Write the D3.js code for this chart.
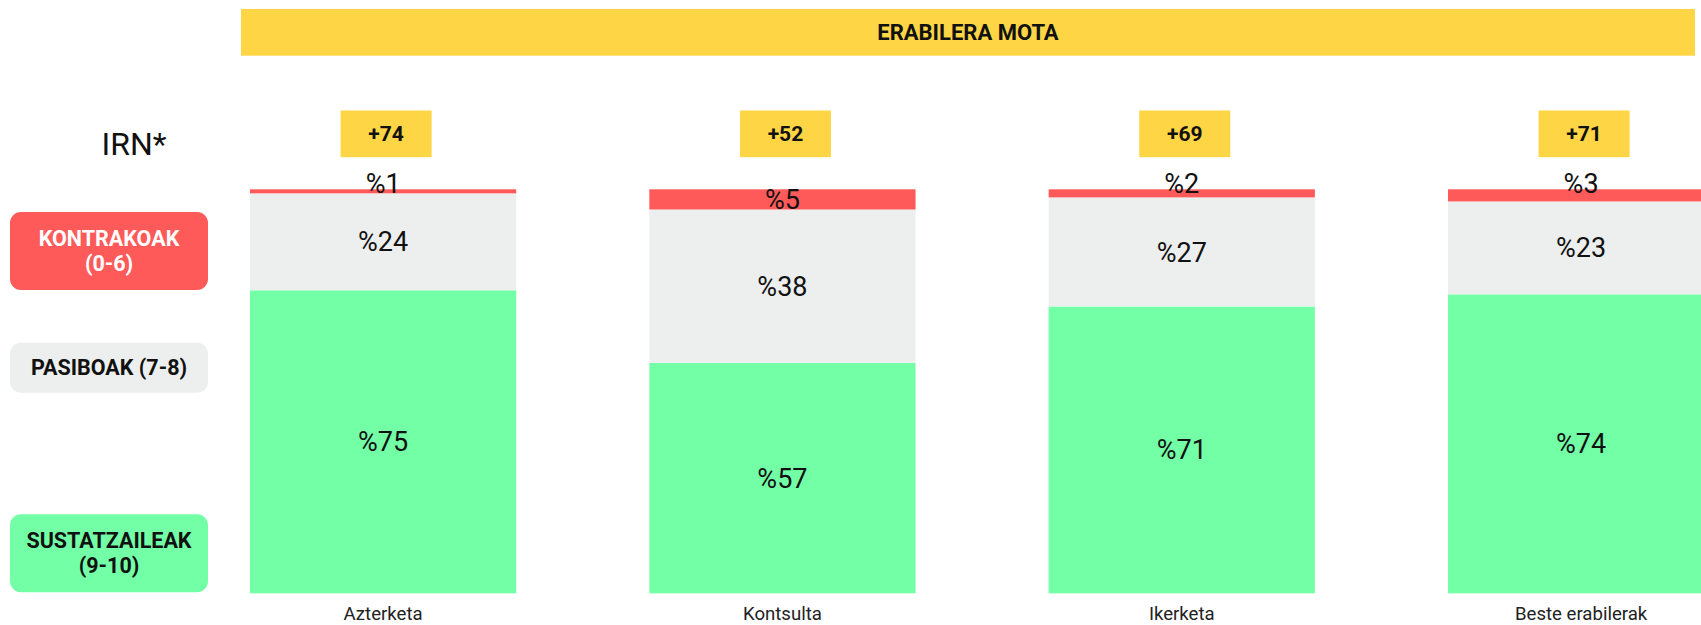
<!DOCTYPE html>
<html>
<head>
<meta charset="utf-8">
<script src="https://cdn.jsdelivr.net/npm/d3@7"></script>
<style>
  html, body { margin: 0; padding: 0; background: #fff; }
  svg { display: block; font-family: Roboto, "Noto Sans", sans-serif; }
</style>
</head>
<body>
<svg id="chart" width="1701" height="625"></svg>
<script>
// ---- data ----
const title = "ERABILERA MOTA";
const categories = ["Azterketa", "Kontsulta", "Ikerketa", "Beste erabilerak"];
const kontrakoak = [1, 5, 2, 3];          // 0-6
const pasiboak = [24, 38, 27, 23];        // 7-8
const sustatzaileak = [75, 57, 71, 74];   // 9-10
const irn = [74, 52, 69, 71];
const seriesKeys = ["sustatzaileak", "pasiboak", "kontrakoak"];
const legendLabels = [["KONTRAKOAK", "(0-6)"], ["PASIBOAK (7-8)"], ["SUSTATZAILEAK", "(9-10)"]];
const irnLabel = "IRN*";

// ---- styles ----
const colors = { kontrakoak: "#FF5A5A", pasiboak: "#EDEFEE", sustatzaileak: "#72FFA6" };
const yellow = "#FED544";

const svg = d3.select("#chart");

const rows = categories.map((c, i) => ({
  cat: c, kontrakoak: kontrakoak[i], pasiboak: pasiboak[i], sustatzaileak: sustatzaileak[i], irn: irn[i]
}));

const x = d3.scaleBand().domain(categories).range([250, 1714.2]).paddingInner(1/3).paddingOuter(0);
const y = d3.scaleLinear().domain([0, 100]).range([593.3, 189.3]);

// title banner
svg.append("rect").attr("x", 241).attr("y", 9).attr("width", 1454).attr("height", 46.7).attr("fill", yellow);
svg.append("text").attr("x", 968).attr("y", 32.3 + 7.8).attr("text-anchor", "middle")
  .attr("font-size", 22).attr("font-weight", 700).attr("fill", "#111").text(title);

// IRN label
svg.append("text").attr("x", 134).attr("y", 155).attr("text-anchor", "middle")
  .attr("font-size", 32).attr("fill", "#111").text(irnLabel);

// legend boxes
const legendBoxes = [
  { key: "kontrakoak", y0: 212, h: 78, text: "#fff" },
  { key: "pasiboak", y0: 342.7, h: 50, text: "#111" },
  { key: "sustatzaileak", y0: 514.3, h: 78, text: "#111" }
];
const lfs = 21.5;
legendBoxes.forEach((b, i) => {
  svg.append("rect").attr("x", 10).attr("y", b.y0).attr("width", 198).attr("height", b.h)
    .attr("rx", 11).attr("fill", colors[b.key]);
  const lines = legendLabels[i];
  const lh = 25;
  const cy = b.y0 + b.h / 2;
  const t = svg.append("text").attr("text-anchor", "middle").attr("font-size", lfs)
    .attr("font-weight", 700).attr("fill", b.text);
  lines.forEach((ln, j) => {
    const base = cy - (lines.length - 1) * lh / 2 + j * lh + lfs * 0.355;
    t.append("tspan").attr("x", 109).attr("y", base).text(ln);
  });
});

// stacked bars
const stack = d3.stack().keys(seriesKeys);
const stacked = stack(rows);
const g = svg.append("g");
stacked.forEach(layer => {
  g.selectAll(null).data(layer).join("rect")
    .attr("x", d => x(d.data.cat))
    .attr("y", d => y(d[1]))
    .attr("width", x.bandwidth())
    .attr("height", d => y(d[0]) - y(d[1]))
    .attr("fill", colors[layer.key]);
});

// segment labels
const fs = 27;
stacked.forEach(layer => {
  g.selectAll(null).data(layer).join("text")
    .attr("x", d => x(d.data.cat) + x.bandwidth() / 2)
    .attr("y", d => {
      const top = y(d[1]), bot = y(d[0]);
      const h = bot - top;
      if (h < 16) return top + 3.5;            // small segment: label sits on its top edge
      return (top + bot) / 2 + fs * 0.355;
    })
    .attr("text-anchor", "middle")
    .attr("font-size", fs)
    .attr("fill", "#111")
    .text(d => "%" + (d[1] - d[0]));
});

// IRN boxes
const bw = 91, bh = 46.7, ifs = 21;
rows.forEach(r => {
  const cx = x(r.cat) + x.bandwidth() / 2;
  svg.append("rect").attr("x", cx - bw / 2 + 3).attr("y", 110.5).attr("width", bw).attr("height", bh).attr("fill", yellow);
  svg.append("text").attr("x", cx + 3).attr("y", 110.5 + bh / 2 + ifs * 0.355).attr("text-anchor", "middle")
    .attr("font-size", ifs).attr("font-weight", 700).attr("fill", "#111").text("+" + r.irn);
});

// category axis (no line, no ticks)
const axis = svg.append("g").attr("transform", "translate(0,593.3)")
  .call(d3.axisBottom(x).tickSize(0).tickPadding(13.5));
axis.select(".domain").remove();
axis.selectAll("text").attr("font-size", 18.6).attr("font-family", "Roboto, sans-serif").attr("fill", "#222");
</script>
</body>
</html>
